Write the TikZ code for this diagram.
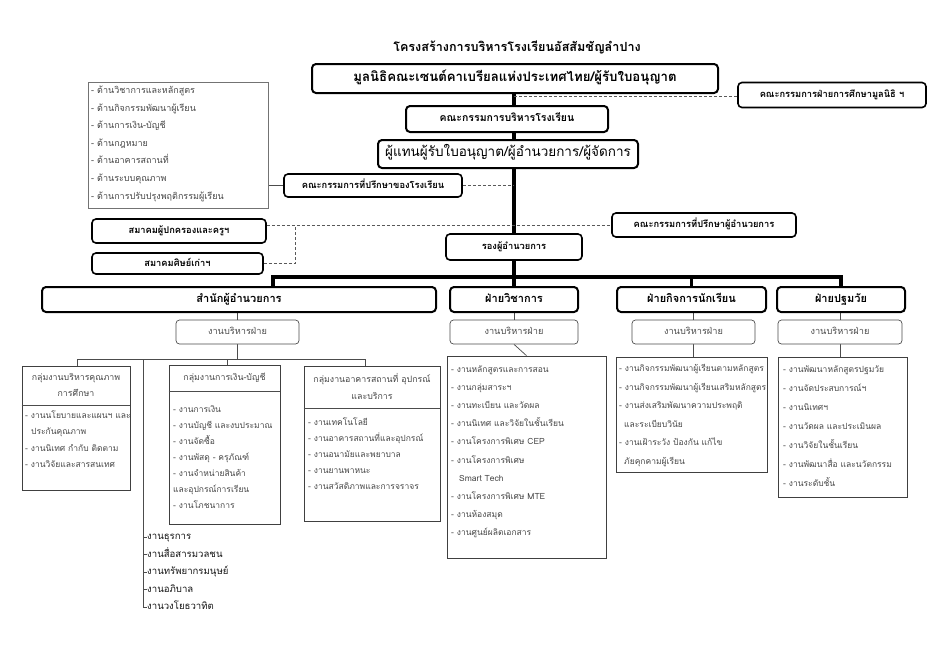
\documentclass[tikz,border=0pt]{standalone}
\usepackage{fontspec}
\setmainfont[Script=Thai]{Loma}
\pgfdeclarelayer{bg}
\pgfsetlayers{bg,main}
\tikzset{
 heavy/.style={draw=black, line width=2pt, rounded corners=4pt, fill=white, inner sep=0pt, text height=8pt, text depth=3pt},
 light/.style={draw=black!70, line width=0.7pt, rounded corners=3.5pt, fill=white, inner sep=0pt, text=black!70, font=\fontsize{9.2}{11}\selectfont, text height=7pt, text depth=2pt},
 plainbox/.style={draw=black!75, line width=0.7pt, inner sep=0pt, fill=white},
 lsttxt/.style={anchor=west, inner sep=0pt, text height=7pt, text depth=2pt, text=black!72, font=\fontsize{8.5}{10}\selectfont},
 hdtxt/.style={inner sep=0pt, text height=7pt, text depth=2pt, text=black!72, font=\fontsize{8.8}{10}\selectfont},
 trunk/.style={line width=3.5pt, black},
 thinline/.style={line width=0.7pt, black!70},
 dashline/.style={line width=0.7pt, black!65, dash pattern=on 3pt off 2pt},
}
\begin{document}
\begin{tikzpicture}[x=1pt,y=-1pt]
\useasboundingbox (0,0) rectangle (934,657);
\begin{pgfonlayer}{bg}
\fill[white] (0,0) rectangle (934,657);
\end{pgfonlayer}

% title and top boxes
\node[inner sep=0pt, font=\bfseries\fontsize{12.6}{15}\selectfont] (title) at (517,47) {โครงสร้างการบริหารโรงเรียนอัสสัมชัญลำปาง};
\node[heavy, minimum width=406, minimum height=29, font=\bfseries\fontsize{13.2}{15}\selectfont] (b1) at (515,78.5) {มูลนิธิคณะเซนต์คาเบรียลแห่งประเทศไทย/ผู้รับใบอนุญาต};
\node[heavy, line width=1.6pt, minimum width=188, minimum height=25, font=\bfseries\fontsize{9.3}{11}\selectfont] (br) at (832,95) {คณะกรรมการฝ่ายการศึกษามูลนิธิ ฯ};
\node[heavy, minimum width=202, minimum height=26, font=\bfseries\fontsize{10.5}{12}\selectfont] (b2) at (507,119) {คณะกรรมการบริหารโรงเรียน};
\node[heavy, minimum width=260, minimum height=28, font=\fontsize{13.5}{15}\selectfont] (b3) at (508,154) {ผู้แทนผู้รับใบอนุญาต/ผู้อำนวยการ/ผู้จัดการ};

% advisory list box
\node[plainbox, draw=black!55, minimum width=180, minimum height=126] (lst) at (178,145) {};
\foreach \t [count=\i] in {{- ด้านวิชาการและหลักสูตร},{- ด้านกิจกรรมพัฒนาผู้เรียน},{- ด้านการเงิน-บัญชี},{- ด้านกฎหมาย},{- ด้านอาคารสถานที่},{- ด้านระบบคุณภาพ},{- ด้านการปรับปรุงพฤติกรรมผู้เรียน}}
  \node[lsttxt, font=\fontsize{9}{10}\selectfont] (lst\i) at (91,{91+(\i-1)*17.6}) {\t};

\node[heavy, line width=1.6pt, minimum width=178, minimum height=23, font=\bfseries\fontsize{9.3}{11}\selectfont] (b4) at (373,185.5) {คณะกรรมการที่ปรึกษาของโรงเรียน};
\node[heavy, line width=1.6pt, minimum width=184, minimum height=24, font=\bfseries\fontsize{9.3}{11}\selectfont] (b5) at (704,225) {คณะกรรมการที่ปรึกษาผู้อำนวยการ};
\node[heavy, line width=1.6pt, minimum width=136, minimum height=26, font=\bfseries\fontsize{9.3}{11}\selectfont] (b6) at (514,247) {รองผู้อำนวยการ};
\node[heavy, line width=1.6pt, minimum width=174, minimum height=24, font=\bfseries\fontsize{9.3}{11}\selectfont] (b7) at (179,231) {สมาคมผู้ปกครองและครูฯ};
\node[heavy, line width=1.6pt, minimum width=171, minimum height=21, font=\bfseries\fontsize{9.3}{11}\selectfont] (b8) at (177.5,263.5) {สมาคมศิษย์เก่าฯ};

% division boxes
\node[heavy, minimum width=394, minimum height=25, font=\bfseries\fontsize{11}{13}\selectfont] (d1) at (239,299.5) {สำนักผู้อำนวยการ};
\node[heavy, minimum width=128, minimum height=25, font=\bfseries\fontsize{11}{13}\selectfont] (d2) at (514,299.5) {ฝ่ายวิชาการ};
\node[heavy, minimum width=149, minimum height=25, font=\bfseries\fontsize{11}{13}\selectfont] (d3) at (691.5,299.5) {ฝ่ายกิจการนักเรียน};
\node[heavy, minimum width=128, minimum height=25, font=\bfseries\fontsize{11}{13}\selectfont] (d4) at (841,299.5) {ฝ่ายปฐมวัย};

\node[light, minimum width=123, minimum height=24] (s1) at (237.5,332) {งานบริหารฝ่าย};
\node[light, minimum width=128, minimum height=24] (s2) at (514,332) {งานบริหารฝ่าย};
\node[light, minimum width=123, minimum height=24] (s3) at (693.5,332) {งานบริหารฝ่าย};
\node[light, minimum width=124, minimum height=24] (s4) at (840,332) {งานบริหารฝ่าย};

% level-3 boxes
\node[plainbox, minimum width=108, minimum height=124] (q) at (76,428) {};
\node[plainbox, minimum width=111, minimum height=159] (f) at (224.5,444.5) {};
\node[plainbox, minimum width=136, minimum height=155] (a) at (372,443.5) {};
\node[plainbox, minimum width=159, minimum height=202] (v) at (526.5,457) {};
\node[plainbox, minimum width=151, minimum height=115] (k) at (691.5,414.5) {};
\node[plainbox, minimum width=129, minimum height=140] (p) at (842.5,427) {};

\draw[thinline] (q.west |- 0,405) -- (q.east |- 0,405);
\draw[thinline] (f.west |- 0,391) -- (f.east |- 0,391);
\draw[thinline] (a.west |- 0,408) -- (a.east |- 0,408);

\node[hdtxt] (qh1) at (76,378) {กลุ่มงานบริหารคุณภาพ};
\node[hdtxt] (qh2) at (76,394) {การศึกษา};
\node[hdtxt] (fh1) at (224.5,378) {กลุ่มงานการเงิน-บัญชี};
\node[hdtxt] (ah1) at (372,380) {กลุ่มงานอาคารสถานที่ อุปกรณ์};
\node[hdtxt] (ah2) at (372,397) {และบริการ};

\node[lsttxt] (q1) at (25,416) {- งานนโยบายและแผนฯ และ};
\node[lsttxt] (q2) at (31,432) {ประกันคุณภาพ};
\node[lsttxt] (q3) at (25,449) {- งานนิเทศ กำกับ ติดตาม};
\node[lsttxt] (q4) at (25,465) {- งานวิจัยและสารสนเทศ};

\node[lsttxt] (f1) at (173,410) {- งานการเงิน};
\node[lsttxt] (f2) at (173,426) {- งานบัญชี และงบประมาณ};
\node[lsttxt] (f3) at (173,442) {- งานจัดซื้อ};
\node[lsttxt] (f4) at (173,458) {- งานพัสดุ - ครุภัณฑ์};
\node[lsttxt] (f5) at (173,474) {- งานจำหน่ายสินค้า};
\node[lsttxt] (f6) at (173,490) {และอุปกรณ์การเรียน};
\node[lsttxt] (f7) at (173,506) {- งานโภชนาการ};

\foreach \t [count=\i] in {{- งานเทคโนโลยี},{- งานอาคารสถานที่และอุปกรณ์},{- งานอนามัยและพยาบาล},{- งานยานพาหนะ},{- งานสวัสดิภาพและการจราจร}}
  \node[lsttxt] (a\i) at (308,{423+(\i-1)*16}) {\t};

\foreach \t/\xx [count=\i] in {{- งานหลักสูตรและการสอน}/451,{- งานกลุ่มสาระฯ}/451,{- งานทะเบียน และวัดผล}/451,{- งานนิเทศ และวิจัยในชั้นเรียน}/451,{- งานโครงการพิเศษ CEP}/451,{- งานโครงการพิเศษ}/451,{Smart Tech}/459,{- งานโครงการพิเศษ MTE}/451,{- งานห้องสมุด}/451,{- งานศูนย์ผลิตเอกสาร}/451}
  \node[lsttxt] (v\i) at (\xx,{370+(\i-1)*18.1}) {\t};

\foreach \t/\xx [count=\i] in {{- งานกิจกรรมพัฒนาผู้เรียนตามหลักสูตร}/619,{- งานกิจกรรมพัฒนาผู้เรียนเสริมหลักสูตร}/619,{- งานส่งเสริมพัฒนาความประพฤติ}/619,{และระเบียบวินัย}/624,{- งานเฝ้าระวัง ป้องกัน แก้ไข}/619,{ภัยคุกคามผู้เรียน}/624}
  \node[lsttxt] (k\i) at (\xx,{369+(\i-1)*18.6}) {\t};

\foreach \t [count=\i] in {{- งานพัฒนาหลักสูตรปฐมวัย},{- งานจัดประสบการณ์ฯ},{- งานนิเทศฯ},{- งานวัดผล และประเมินผล},{- งานวิจัยในชั้นเรียน},{- งานพัฒนาสื่อ และนวัตกรรม},{- งานระดับชั้น}}
  \node[lsttxt] (p\i) at (783,{370+(\i-1)*19}) {\t};

\foreach \t [count=\i] in {งานธุรการ,งานสื่อสารมวลชน,งานทรัพยากรมนุษย์,งานอภิบาล,งานวงโยธวาทิต}
  \node[lsttxt, text=black!92, font=\fontsize{9.6}{11}\selectfont] (ln\i) at (147,{537+(\i-1)*17.5}) {\t};

% connectors
\begin{pgfonlayer}{bg}
\coordinate (tk) at (514,0);
\draw[trunk] (b1.south -| tk) -- (b2.north -| tk);
\draw[trunk] (b2.south -| tk) -- (b3.north -| tk);
\draw[trunk] (b3.south -| tk) -- (b6.north -| tk);
\draw[trunk] (b6.south -| tk) -- (d2.north -| tk);
\coordinate (busL) at (273,277);
\coordinate (busR) at (841,277);
\draw[trunk] (busL |- d1.north) -- (busL) -- (busR) -- (busR |- d4.north);
\draw[trunk] (d3.north) -- (d3.north |- busL);

\coordinate (d0) at (514,96);
\draw[dashline] (d0) -- (d0 -| br.west);
\draw[thinline] (lst.east |- b4.west) -- (b4.west);
\draw[dashline] (b4.east) -- (b4.east -| tk);
\coordinate (dv) at (295,225);
\draw[dashline] (b7.east |- dv) -- (dv) -- (b5.west |- dv);
\draw[dashline] (b8.east) -- (b8.east -| dv) -- (dv);

\draw[thinline] (d1.south -| s1.north) -- (s1.north);
\draw[thinline] (d2.south) -- (s2.north);
\draw[thinline] (d3.south -| s3.north) -- (s3.north);
\draw[thinline] (d4.south -| s4.north) -- (s4.north);

\coordinate (h3L) at (77,359);
\coordinate (h3R) at (365,359);
\draw[thinline] (s1.south) -- (s1.south |- h3L);
\draw[thinline] (h3L |- q.north) -- (h3L) -- (h3R) -- (h3R |- a.north);
\coordinate (fx) at (227,359);
\draw[thinline] (fx) -- (fx |- f.north);
\draw[thinline] (s2.south) -- (v.north);
\draw[thinline] (s3.south) -- (s3.south |- k.north);
\draw[thinline] (s4.south) -- (s4.south |- p.north);

\coordinate (lv) at (143,359);
\draw[thinline] (lv) -- (lv |- ln5.west) -- (ln5.west);
\foreach \i in {1,...,4} \draw[thinline] (lv |- ln\i.west) -- (ln\i.west);
\end{pgfonlayer}
\end{tikzpicture}
\end{document}
